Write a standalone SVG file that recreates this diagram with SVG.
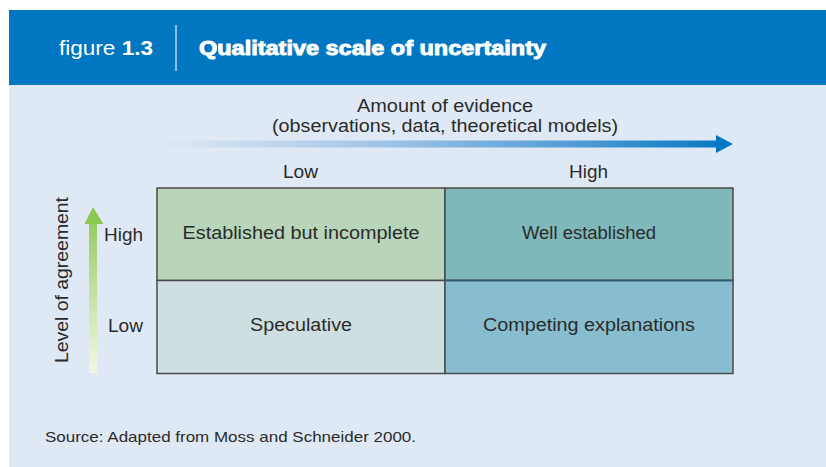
<svg xmlns="http://www.w3.org/2000/svg" width="826" height="467" viewBox="0 0 826 467">
  <defs>
    <linearGradient id="evidenceGrad" x1="160" y1="0" x2="733" y2="0" gradientUnits="userSpaceOnUse">
      <stop offset="0" stop-color="#dfe9f5"/>
      <stop offset="0.35" stop-color="#a9c8e8"/>
      <stop offset="0.7" stop-color="#5a9fd6"/>
      <stop offset="1" stop-color="#0077c0"/>
    </linearGradient>
    <linearGradient id="agreementGrad" x1="0" y1="373" x2="0" y2="207" gradientUnits="userSpaceOnUse">
      <stop offset="0" stop-color="#f2f7e4"/>
      <stop offset="0.5" stop-color="#c2e0a0"/>
      <stop offset="1" stop-color="#8cc751"/>
    </linearGradient>
    <style>
      .lbl { font-family: "Liberation Sans", Arial, sans-serif; fill: #2b2b2b; font-size: 17.5px; }
      .mid { text-anchor: middle; }
      .end { text-anchor: end; }
      .cell { stroke: #4a4a4a; stroke-width: 1.5; }
    </style>
  </defs>

  <!-- page -->
  <rect x="0" y="0" width="826" height="467" fill="#ffffff"/>
  <rect x="9" y="10" width="817" height="457" fill="#dfe9f5"/>

  <!-- title bar -->
  <g id="header">
    <rect x="9" y="10" width="817" height="75" fill="#0077c0"/>
    <text x="59" y="55" font-family="Liberation Sans, Arial, sans-serif" font-size="19.5" fill="#ffffff" textLength="94" lengthAdjust="spacingAndGlyphs">figure <tspan font-weight="bold">1.3</tspan></text>
    <line x1="176" y1="25" x2="176" y2="71" stroke="#d6e6f4" stroke-width="1.3"/>
    <text x="199" y="55" font-family="Liberation Sans, Arial, sans-serif" font-size="19.5" font-weight="bold" fill="#ffffff" stroke="#ffffff" stroke-width="0.9" textLength="347" lengthAdjust="spacingAndGlyphs">Qualitative scale of uncertainty</text>
  </g>

  <!-- axes -->
  <g id="axes">
    <g id="evidence-axis">
      <text class="lbl mid" x="445" y="112" textLength="176" lengthAdjust="spacingAndGlyphs">Amount of evidence</text>
      <text class="lbl mid" x="445" y="132" textLength="346" lengthAdjust="spacingAndGlyphs">(observations, data, theoretical models)</text>
      <rect x="160" y="140.5" width="560" height="7" fill="url(#evidenceGrad)"/>
      <polygon points="716,135 733,144 716,153" fill="#0077c0"/>
      <text class="lbl mid" x="300.5" y="178" textLength="35" lengthAdjust="spacingAndGlyphs">Low</text>
      <text class="lbl mid" x="588.5" y="178" textLength="39" lengthAdjust="spacingAndGlyphs">High</text>
    </g>
    <g id="agreement-axis">
      <text class="lbl mid" transform="translate(68,280) rotate(-90)" textLength="166" lengthAdjust="spacingAndGlyphs">Level of agreement</text>
      <rect x="89" y="222" width="8" height="151" fill="url(#agreementGrad)"/>
      <polygon points="84.5,224 93,207 103.5,224" fill="#8cc751"/>
      <text class="lbl end" x="143" y="241" textLength="39" lengthAdjust="spacingAndGlyphs">High</text>
      <text class="lbl end" x="143" y="332" textLength="35" lengthAdjust="spacingAndGlyphs">Low</text>
    </g>
  </g>

  <!-- matrix cells -->
  <g id="cell-established-incomplete">
    <rect class="cell" x="157" y="188" width="288" height="92.5" fill="#b8d4b9"/>
    <text class="lbl mid" x="301" y="239" textLength="237" lengthAdjust="spacingAndGlyphs">Established but incomplete</text>
  </g>
  <g id="cell-speculative">
    <rect class="cell" x="157" y="280.5" width="288" height="93" fill="#cddfe0"/>
    <text class="lbl mid" x="301" y="331" textLength="102" lengthAdjust="spacingAndGlyphs">Speculative</text>
  </g>
  <g id="cell-well-established">
    <rect class="cell" x="445" y="188" width="288" height="92.5" fill="#7fb8bb"/>
    <text class="lbl mid" x="589" y="239" textLength="134" lengthAdjust="spacingAndGlyphs">Well established</text>
  </g>
  <g id="cell-competing">
    <rect class="cell" x="445" y="280.5" width="288" height="93" fill="#88bdd0"/>
    <text class="lbl mid" x="589" y="331" textLength="212" lengthAdjust="spacingAndGlyphs">Competing explanations</text>
  </g>
  <!-- darker divider between the two right-hand cells -->
  <g id="connectors">
    <line x1="445" y1="280.5" x2="733" y2="280.5" stroke="#2f5a78" stroke-width="1.5"/>
  </g>

  <!-- footnote -->
  <text x="45" y="442" font-family="Liberation Sans, Arial, sans-serif" font-size="14.5" fill="#2b2b2b" textLength="371" lengthAdjust="spacingAndGlyphs">Source: Adapted from Moss and Schneider 2000.</text>
</svg>
